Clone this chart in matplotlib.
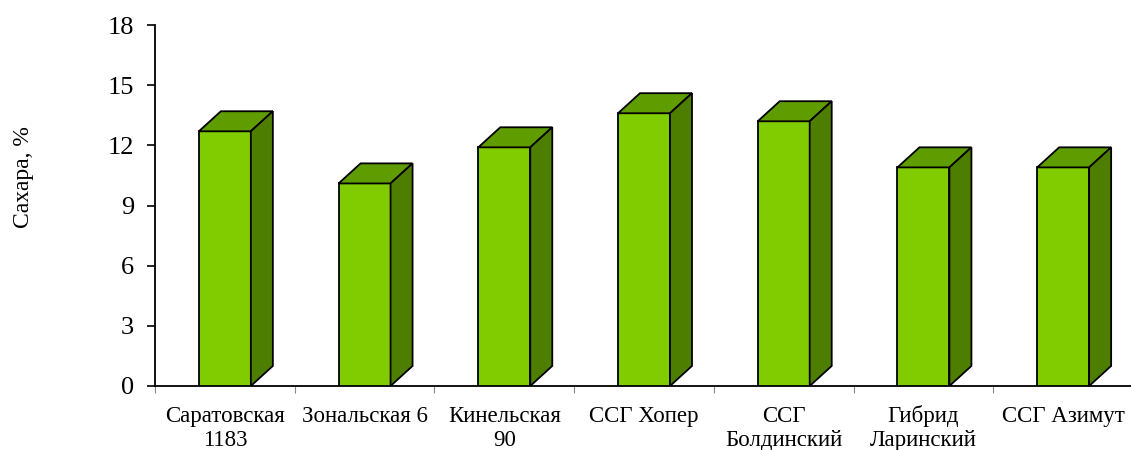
import matplotlib
matplotlib.use("Agg")
import matplotlib.pyplot as plt
from matplotlib.patches import Polygon
import numpy as np

categories = ["Саратовская\n1183", "Зональская 6", "Кинельская\n90", "ССГ Хопер",
              "ССГ\nБолдинский", "Гибрид\nЛаринский", "ССГ Азимут"]
values = [12.7, 10.1, 11.9, 13.6, 13.2, 10.9, 10.9]
yticks = [0, 3, 6, 9, 12, 15, 18]
ylabel = "Сахара, %"

plt.rcParams['font.family'] = ['Liberation Serif', 'DejaVu Serif']

W, H = 1131, 450
AX_H = 361
fig = plt.figure(figsize=(W / 100, H / 100), dpi=100)
ax = fig.add_axes([155 / W, 64 / H, 978 / W, AX_H / H])

front_c = "#80CC00"
top_c = "#5E9C00"
side_c = "#4E7E00"
bw = 0.372
dx = 0.1575
dy = 1.0

x = np.arange(len(categories))
ax.bar(x, values, width=bw, color=front_c, edgecolor="black", linewidth=1.3, zorder=3)
for xi, v in zip(x, values):
    l, r = xi - bw / 2, xi + bw / 2
    top = Polygon([(l, v), (r, v), (r + dx, v + dy), (l + dx, v + dy)], closed=True,
                  facecolor=top_c, edgecolor="black", linewidth=1.3, zorder=3)
    side = Polygon([(r, 0), (r + dx, dy), (r + dx, v + dy), (r, v)], closed=True,
                   facecolor=side_c, edgecolor="black", linewidth=1.3, zorder=3)
    ax.add_patch(top)
    ax.add_patch(side)

ax.set_xlim(-0.5, len(categories) - 0.5)
ax.set_ylim(0, 18)
ax.set_yticks(yticks)
ax.set_yticklabels([str(t) for t in yticks], fontsize=19)
ax.set_xticks(x)
ax.set_xticklabels([])
ax.tick_params(axis='x', length=0)
ax.set_xticks(np.arange(-0.5, len(categories), 1.0), minor=True)
ax.tick_params(axis='x', which='minor', length=5, width=0.8, color="#888888")
ax.tick_params(axis='y', length=6, width=1.2, pad=9)
for s in ["top", "right"]:
    ax.spines[s].set_visible(False)
ax.spines["left"].set_linewidth(1.3)
ax.spines["bottom"].set_linewidth(1.3)

trans = ax.get_xaxis_transform()
for xi, lab in zip(x, categories):
    for k, line in enumerate(lab.split("\n")):
        ax.text(xi, -(36 + 24 * k) / AX_H, line, transform=trans, ha="center",
                va="baseline", fontsize=16.5, clip_on=False)

fig.text(23 / W, (H - 177) / H, ylabel, rotation=90, fontsize=17,
         ha="center", va="center")

fig.savefig("out.png", dpi=100)
